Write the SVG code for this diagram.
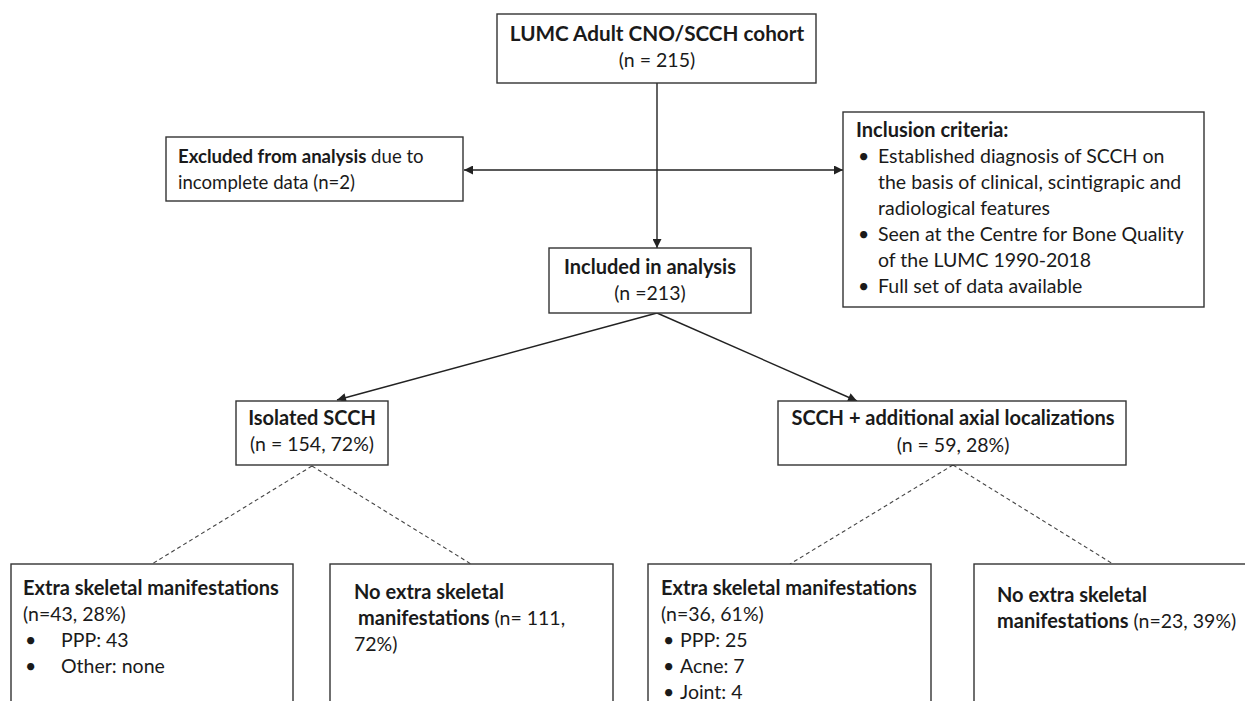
<svg xmlns="http://www.w3.org/2000/svg" width="1245" height="701" viewBox="0 0 1245 701">
<style>
.box{fill:#fff;stroke:#333;stroke-width:1.4}
.t{font-family:Lato,"Liberation Sans",sans-serif;font-size:19.5px;fill:#1a1a1a}
.b{font-weight:bold;font-size:20px}
.c{text-anchor:middle}
.ln{stroke:#222;stroke-width:1.4;fill:none}
.dash{stroke:#444;stroke-width:1.1;stroke-dasharray:4 3;fill:none}
</style>
<defs>
<marker id="arr" viewBox="0 0 10 10" refX="10" refY="5" markerWidth="11" markerHeight="9" markerUnits="userSpaceOnUse" orient="auto-start-reverse">
<path d="M0,0 L10,5 L0,10 z" fill="#222"/>
</marker>
</defs>
<rect width="1245" height="701" fill="#fff"/>
<g id="connectors">
<line class="ln" x1="657" y1="83" x2="657" y2="248" marker-end="url(#arr)"/>
<line class="ln" x1="464" y1="170" x2="843" y2="170" marker-start="url(#arr)" marker-end="url(#arr)"/>
<line class="ln" x1="657" y1="313" x2="337" y2="400" marker-end="url(#arr)"/>
<line class="ln" x1="657" y1="313" x2="857" y2="401" marker-end="url(#arr)"/>
<line class="dash" x1="312" y1="466" x2="152" y2="564"/>
<line class="dash" x1="312" y1="466" x2="471" y2="564"/>
<line class="dash" x1="953" y1="465" x2="790" y2="564"/>
<line class="dash" x1="953" y1="465" x2="1113" y2="564"/>
</g>
<g id="cohort">
<rect class="box" x="497" y="14" width="319" height="69"/>
<text class="t b c" x="657" y="41" style="font-size:20.7px">LUMC Adult CNO/SCCH cohort</text>
<text class="t c" x="657" y="67">(n = 215)</text>
</g>
<g id="excluded">
<rect class="box" x="166" y="137" width="297" height="64"/>
<text class="t" x="178" y="163" style="font-size:18.6px"><tspan style="font-weight:bold">Excluded from analysis</tspan> due to</text>
<text class="t" x="178" y="189" style="font-size:18.6px">incomplete data (n=2)</text>
</g>
<g id="inclusion">
<rect class="box" x="843" y="112" width="361" height="195"/>
<text class="t b" x="856" y="137">Inclusion criteria:</text>
<text class="t" x="858" y="163">•</text>
<text class="t" x="878" y="163">Established diagnosis of SCCH on</text>
<text class="t" x="878" y="189">the basis of clinical, scintigrapic and</text>
<text class="t" x="878" y="215">radiological features</text>
<text class="t" x="858" y="241">•</text>
<text class="t" x="878" y="241">Seen at the Centre for Bone Quality</text>
<text class="t" x="878" y="267">of the LUMC 1990-2018</text>
<text class="t" x="858" y="293">•</text>
<text class="t" x="878" y="293">Full set of data available</text>
</g>
<g id="included">
<rect class="box" x="549" y="248" width="202" height="65"/>
<text class="t b c" x="650" y="274">Included in analysis</text>
<text class="t c" x="650" y="300">(n =213)</text>
</g>
<g id="isolated">
<rect class="box" x="236" y="401" width="152" height="64"/>
<text class="t b c" x="312" y="425">Isolated SCCH</text>
<text class="t c" x="312" y="451">(n = 154, 72%)</text>
</g>
<g id="axial">
<rect class="box" x="778" y="401" width="348" height="64"/>
<text class="t b c" x="953" y="425">SCCH + additional axial localizations</text>
<text class="t c" x="953" y="452">(n = 59, 28%)</text>
</g>
<g id="iso-extra">
<rect class="box" x="11" y="564" width="282" height="200"/>
<text class="t b" x="23" y="595">Extra skeletal manifestations</text>
<text class="t" x="23" y="621">(n=43, 28%)</text>
<text class="t" x="25" y="647">•</text>
<text class="t" x="61" y="647">PPP: 43</text>
<text class="t" x="25" y="673">•</text>
<text class="t" x="61" y="673">Other: none</text>
</g>
<g id="iso-noextra">
<rect class="box" x="330" y="564" width="283" height="200"/>
<text class="t b" x="354" y="599">No extra skeletal</text>
<text class="t" x="358" y="625"><tspan class="b">manifestations</tspan> (n= 111,</text>
<text class="t" x="354" y="651">72%)</text>
</g>
<g id="axial-extra">
<rect class="box" x="648" y="564" width="283" height="200"/>
<text class="t b" x="661" y="595">Extra skeletal manifestations</text>
<text class="t" x="661" y="621">(n=36, 61%)</text>
<text class="t" x="663" y="647">•</text>
<text class="t" x="680" y="647">PPP: 25</text>
<text class="t" x="663" y="673">•</text>
<text class="t" x="680" y="673">Acne: 7</text>
<text class="t" x="663" y="699">•</text>
<text class="t" x="680" y="699">Joint: 4</text>
</g>
<g id="axial-noextra">
<rect class="box" x="974" y="564" width="290" height="200"/>
<text class="t b" x="997" y="602">No extra skeletal</text>
<text class="t" x="997" y="628"><tspan class="b">manifestations</tspan> (n=23, 39%)</text>
</g>
</svg>
